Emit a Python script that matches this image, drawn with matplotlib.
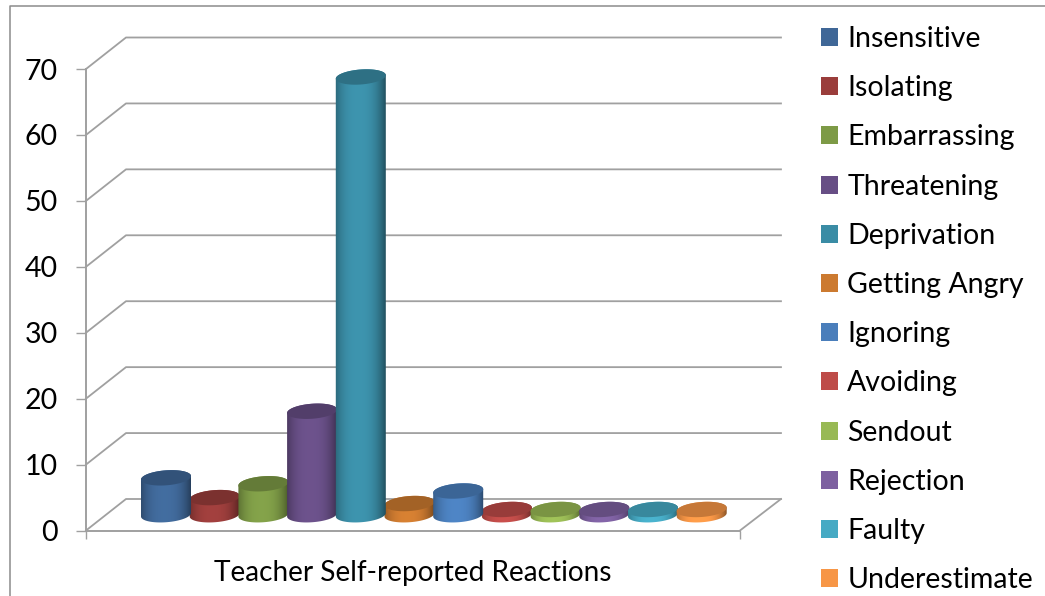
import matplotlib
matplotlib.use('Agg')
import matplotlib.pyplot as plt
import numpy as np
from matplotlib.lines import Line2D
from matplotlib.patches import Patch, Polygon
from matplotlib.colors import to_rgb

categories = ['Insensitive', 'Isolating', 'Embarrassing', 'Threatening',
              'Deprivation', 'Getting Angry', 'Ignoring', 'Avoiding',
              'Sendout', 'Rejection', 'Faulty', 'Underestimate']
values = [5.6, 2.6, 4.7, 15.7, 66.4, 1.7, 3.6, 0.8, 0.8, 0.8, 0.8, 0.8]
colors = ['#3F6797', '#9A3D3B', '#7D9A46', '#674E85', '#3A8CA5', '#CC7A30',
          '#4A7EBB', '#BE4B48', '#98B954', '#7D60A0', '#46AAC4', '#F79646']
y_ticks = [0, 10, 20, 30, 40, 50, 60, 70]
x_label = 'Teacher Self-reported Reactions'

W, H = 1045, 596
GRID = '#A0A0A0'
plt.rcParams['font.family'] = ['Lato', 'DejaVu Sans']

fig = plt.figure(figsize=(W / 100, H / 100), dpi=100)

# front plane of the fake 3d box, in pixels
left, right, bottom, top = 86, 740, 530.5, 69
ax = fig.add_axes([left / W, 1 - bottom / H, (right - left) / W, (bottom - top) / H])
px_x = 48.7                     # pixels per category
px_y = (bottom - top) / 70      # pixels per unit
x0 = (left - 166) / px_x
ax.set_xlim(x0, x0 + (right - left) / px_x)
ax.set_ylim(0, 70)
ax.patch.set_alpha(0)

depth_x = 40 / px_x
depth_y = 31.5 / px_y

# outer frame, cut by the image on the right and the bottom
fig.add_artist(Line2D([9.5 / W, 9.5 / W, 1], [0, 1 - 6 / H, 1 - 6 / H], color='#8C8C8C', lw=1.1))

for v in y_ticks:
    ax.plot([x0, x0 + depth_x, x0 + (right - left) / px_x + depth_x + 0.02],
            [v, v + depth_y, v + depth_y], color=GRID, lw=1.3, clip_on=False, zorder=1)
# right side of the floor
ax.plot([x0 + (right - left) / px_x, x0 + (right - left) / px_x + depth_x + 0.02],
        [0, depth_y], color=GRID, lw=1.3, clip_on=False, zorder=1)


def ellipse(cx, cy, t):
    # tilted a bit, like the original perspective
    ex = 25 * np.cos(t)
    ey = 7.5 * np.sin(t) + 0.07 * ex
    return cx + ex / px_x, cy + ey / px_y


def cylinder(i, value, color, z):
    cx = i
    base = depth_y / 2
    tip = base + value
    rgb = np.array(to_rgb(color))
    t = np.linspace(np.pi, 2 * np.pi, 60)
    bx, by = ellipse(cx, base, t)
    tx, ty = ellipse(cx, tip, t - np.pi)
    body = np.vstack([np.c_[bx, by], np.c_[tx, ty]])
    xs = np.linspace(-1, 1, 100)
    shade = 0.66 + 0.4 * (1 - np.abs(xs + 0.08) ** 2.6)
    img = np.clip(rgb[None, None, :] * shade[None, :, None], 0, 1)
    half = 25.5 / px_x
    im = ax.imshow(img, extent=[cx - half, cx + half, 0, tip + 3], aspect='auto',
                   zorder=z, interpolation='bilinear')
    clip = Polygon(body, closed=True, transform=ax.transData, fc='none', ec='none')
    ax.add_patch(clip)
    im.set_clip_path(clip)
    t2 = np.linspace(0, 2 * np.pi, 120)
    ex, ey = ellipse(cx, tip, t2)
    ax.fill(ex, ey, color=rgb * 0.8, lw=0, zorder=z + 0.1, clip_on=False)


order = np.argsort(values, kind='stable')
for rank, i in enumerate(order):
    cylinder(i, values[i], colors[i], 3 + rank)

ax.set_xlim(x0, x0 + (right - left) / px_x)
ax.set_ylim(0, 70)

for side in ['top', 'right']:
    ax.spines[side].set_visible(False)
for side in ['left', 'bottom']:
    ax.spines[side].set_color(GRID)
    ax.spines[side].set_linewidth(1.4)

ax.set_yticks(y_ticks)
ax.tick_params(axis='y', length=7.2, width=1, color=GRID, labelsize=20.5, pad=13)
ax.set_xticks([x0, x0 + (right - left) / px_x])
ax.set_xticklabels([])
ax.tick_params(axis='x', length=5.5, width=1, color=GRID)
ax.set_xticks([x0 + (right - left) / px_x / 2], minor=True)
ax.set_xticklabels([x_label], minor=True, fontsize=20.2)
ax.tick_params(axis='x', which='minor', length=0, pad=21.5)

handles = [Patch(fc=c, ec='none') for c in colors]
leg = fig.legend(handles, categories, loc='upper left',
                 bbox_to_anchor=(821 / W, 1 - 26 / H), bbox_transform=fig.transFigure,
                 frameon=False, fontsize=20.5, borderpad=0, borderaxespad=0,
                 labelspacing=0.815, handlelength=0.595, handleheight=0.595,
                 handletextpad=0.33)

fig.savefig('out.png', dpi=100)
